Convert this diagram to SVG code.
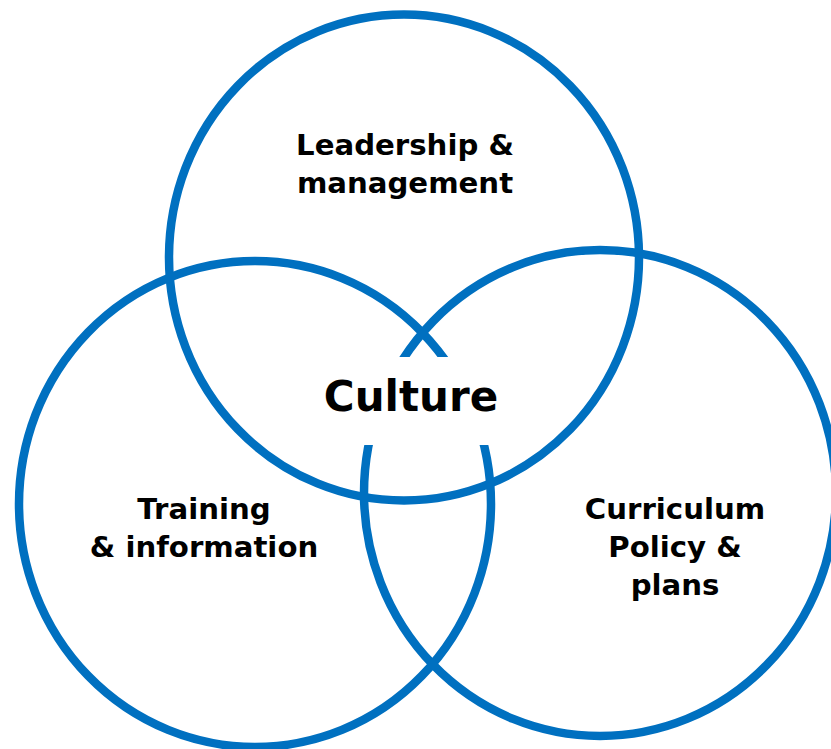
<svg xmlns="http://www.w3.org/2000/svg" width="831" height="749" viewBox="0 0 831 749">
  <style>
    .ring { fill: none; stroke: #0070C0; stroke-width: 8.5; }
    .lbl { font-family: "DejaVu Sans", Verdana, sans-serif; font-weight: bold; font-size: 29.2px; fill: #000; text-anchor: middle; }
    .core { font-family: "DejaVu Sans", Verdana, sans-serif; font-weight: bold; font-size: 42px; fill: #000; text-anchor: middle; }
  </style>
  <rect width="831" height="749" fill="#fff"/>
  <g id="leadership">
    <ellipse class="ring" cx="404" cy="257.5" rx="235" ry="243"/>
    <text class="lbl" x="405" y="155">Leadership &amp;</text>
    <text class="lbl" x="405" y="193">management</text>
  </g>
  <g id="training">
    <ellipse class="ring" cx="255" cy="504" rx="236" ry="243"/>
    <text class="lbl" x="204" y="519">Training</text>
    <text class="lbl" x="204" y="557">&amp; information</text>
  </g>
  <g id="curriculum">
    <ellipse class="ring" cx="600" cy="493" rx="236" ry="243"/>
    <text class="lbl" x="675" y="519">Curriculum</text>
    <text class="lbl" x="675" y="557">Policy &amp;</text>
    <text class="lbl" x="675" y="595">plans</text>
  </g>
  <g id="culture">
    <rect x="305" y="357" width="210" height="88" fill="#fff"/>
    <text class="core" x="411" y="411">Culture</text>
  </g>
  <g id="connectors"/>
</svg>
